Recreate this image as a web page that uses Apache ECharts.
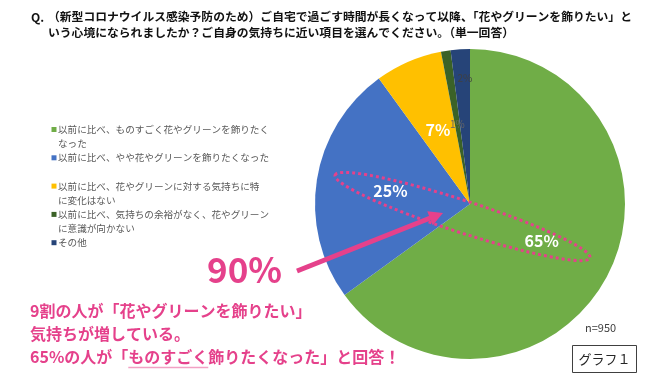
<!DOCTYPE html>
<html>
<head>
<meta charset="utf-8">
<script src="https://cdn.jsdelivr.net/npm/echarts@6/dist/echarts.min.js"></script>
<style>html,body{margin:0;padding:0;background:#fff}#c{width:650px;height:390px}</style>
</head>
<body>
<div id="c"></div>
<script>
// ---- data ----
const categories = [
  '以前に比べ、ものすごく花やグリーンを飾りたく\nなった',
  '以前に比べ、やや花やグリーンを飾りたくなった',
  '以前に比べ、花やグリーンに対する気持ちに特\nに変化はない',
  '以前に比べ、気持ちの余裕がなく、花やグリーン\nに意識が向かない',
  'その他'
];
const values = [65, 25, 7, 1, 2];
const colors = ['#70AD47', '#4472C4', '#FFC000', '#3B6227', '#264478'];
const titleLine0 = 'Q.';
const titleLine1 = '（新型コロナウイルス感染予防のため）ご自宅で過ごす時間が長くなって以降、「花やグリーンを飾りたい」と';
const titleLine2 = 'いう心境になられましたか？ご自身の気持ちに近い項目を選んでください。（単一回答）';
const bigNote = '90%';
const noteLines = ['9割の人が「花やグリーンを飾りたい」', '気持ちが増している。', '65%の人が「ものすごく飾りたくなった」と回答！'];
const underlinePrefix = '65%の人が「';
const underlineWord = 'ものすごく';
const sampleNote = 'n=950';
const chartTag = 'グラフ１';

// ---- styles ----
const FONT = '"Noto Sans CJK JP", "Noto Sans", sans-serif';
const PINK = '#E5418B';

const chart = echarts.init(document.getElementById('c'), null, {renderer: 'canvas'});

const pieData = values.map((v, i) => {
  const small = i >= 3;
  return {
    name: categories[i],
    value: v,
    itemStyle: {color: colors[i]},
    label: small
      ? {color: i === 3 ? '#666666' : '#404040', fontSize: 10, fontWeight: 'normal'}
      : {color: '#ffffff', fontSize: 16, fontWeight: 'bold'}
  };
});

// legend drawn as graphic
const legendEls = [];
categories.forEach((c, i) => {
  const top = 122.5 + i * 28.3;
  legendEls.push({
    type: 'rect', shape: {x: 51.5, y: top + 4.5, width: 5, height: 5},
    style: {fill: colors[i]}, silent: true
  });
  legendEls.push({
    type: 'text', x: 58, y: top,
    style: {text: c, fill: '#595959', font: '9.6px ' + FONT, lineHeight: 14, verticalAlign: 'top', align: 'left'},
    silent: true
  });
});

// arrow geometry (annotation)
const a0 = [297, 271], a1 = [443, 213];
const dx = a1[0] - a0[0], dy = a1[1] - a0[1];
const len = Math.sqrt(dx * dx + dy * dy);
const ux = dx / len, uy = dy / len, nx = -uy, ny = ux;
const headL = 14, headW = 7.5;
const base = [a1[0] - ux * headL, a1[1] - uy * headL];

// measure underline position
const mc = document.createElement('canvas').getContext('2d');
mc.font = 'bold 16px ' + FONT;
const noteX = 30;
const ulStart = noteX + mc.measureText(underlinePrefix).width;
const ulEnd = ulStart + mc.measureText(underlineWord).width;

const option = {
  backgroundColor: '#ffffff',
  animation: false,
  title: [
    {text: titleLine0, left: 31, top: 9, padding: 0, textStyle: {fontSize: 12, fontWeight: 'bold', color: '#111', fontFamily: FONT, lineHeight: 16}},
    {text: titleLine1, left: 48, top: 9, padding: 0, textStyle: {fontSize: 11.8, fontWeight: 'bold', color: '#111', fontFamily: FONT, lineHeight: 16}},
    {text: titleLine2, left: 48, top: 25, padding: 0, textStyle: {fontSize: 11.8, fontWeight: 'bold', color: '#111', fontFamily: FONT, lineHeight: 16}}
  ],
  series: [{
    type: 'pie',
    center: [470, 204],
    radius: 155,
    startAngle: 90,
    clockwise: true,
    silent: true,
    emphasis: {disabled: true},
    itemStyle: {borderWidth: 0},
    label: {show: true, position: 'inside', formatter: p => p.value + '%', fontFamily: FONT},
    labelLine: {show: false},
    labelLayout: function (params) {
      if (params.dataIndex === 4) return {dy: -45};
      return {};
    },
    data: pieData
  }],
  graphic: {
    elements: legendEls.concat([
      {
        type: 'ellipse', x: 462.5, y: 216.5, rotation: -18 * Math.PI / 180, z: 100,
        shape: {cx: 0, cy: 0, rx: 134, ry: 16},
        style: {fill: 'none', stroke: PINK, lineWidth: 3, lineDash: [3, 3]}, silent: true
      },
      {
        type: 'line', z: 100,
        shape: {x1: a0[0], y1: a0[1], x2: base[0] + ux * 1, y2: base[1] + uy * 1},
        style: {stroke: PINK, lineWidth: 5}, silent: true
      },
      {
        type: 'polygon', z: 100,
        shape: {points: [a1, [base[0] + nx * headW, base[1] + ny * headW], [base[0] - nx * headW, base[1] - ny * headW]]},
        style: {fill: PINK}, silent: true
      },
      {
        type: 'text', x: 207, y: 270, z: 100,
        style: {text: bigNote, fill: PINK, font: 'bold 35px ' + FONT, verticalAlign: 'middle', align: 'left'}, silent: true
      },
      {
        type: 'text', x: noteX, y: 311, z: 100,
        style: {text: noteLines[0], fill: PINK, font: 'bold 16px ' + FONT, verticalAlign: 'middle', align: 'left'}, silent: true
      },
      {
        type: 'text', x: noteX, y: 334, z: 100,
        style: {text: noteLines[1], fill: PINK, font: 'bold 16px ' + FONT, verticalAlign: 'middle', align: 'left'}, silent: true
      },
      {
        type: 'text', x: noteX, y: 357, z: 100,
        style: {text: noteLines[2], fill: PINK, font: 'bold 16px ' + FONT, verticalAlign: 'middle', align: 'left'}, silent: true
      },
      {
        type: 'line', z: 100,
        shape: {x1: ulStart, y1: 367.5, x2: ulEnd, y2: 367.5},
        style: {stroke: '#F2A1C4', lineWidth: 1.5}, silent: true
      },
      {
        type: 'text', x: 585, y: 328, z: 100,
        style: {text: sampleNote, fill: '#404040', font: '11px ' + FONT, verticalAlign: 'middle', align: 'left'}, silent: true
      },
      {
        type: 'rect', z: 100,
        shape: {x: 572.5, y: 345.5, width: 64, height: 27},
        style: {fill: '#ffffff', stroke: '#404040', lineWidth: 1}, silent: true
      },
      {
        type: 'text', x: 604.5, y: 359, z: 101,
        style: {text: chartTag, fill: '#262626', font: '13px ' + FONT, verticalAlign: 'middle', align: 'center'}, silent: true
      }
    ])
  }
};
chart.setOption(option);
</script>
</body>
</html>
